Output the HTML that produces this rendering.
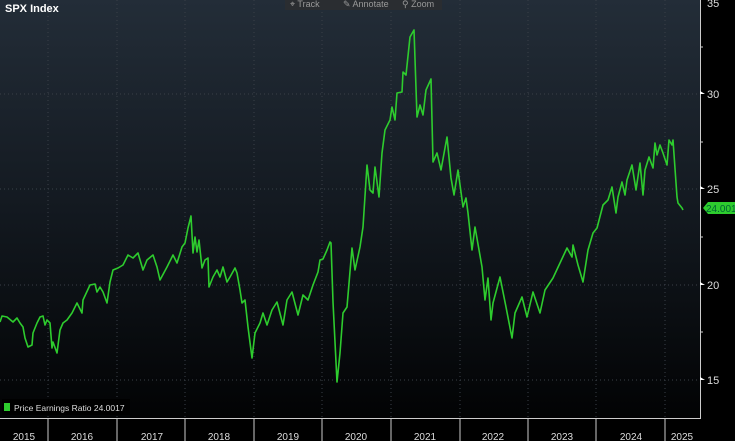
<!DOCTYPE html>
<html><head><style>
body{margin:0;background:#000;width:735px;height:441px;overflow:hidden;font-family:"Liberation Sans",sans-serif}
</style></head><body>
<svg width="735" height="441" viewBox="0 0 735 441" xmlns="http://www.w3.org/2000/svg" style="position:absolute;left:0;top:0">
<defs><linearGradient id="bg" x1="0" y1="0" x2="0" y2="1">
<stop offset="0" stop-color="#232d38"/><stop offset="0.5" stop-color="#131920"/><stop offset="1" stop-color="#020304"/></linearGradient></defs>
<rect x="0" y="0" width="700" height="418" fill="url(#bg)"/>
<g stroke="#3a4048" stroke-width="1" stroke-dasharray="1,3">
<line x1="0" y1="94" x2="700" y2="94"/><line x1="0" y1="189" x2="700" y2="189"/><line x1="0" y1="285" x2="700" y2="285"/><line x1="0" y1="380" x2="700" y2="380"/>
<line x1="48" y1="0" x2="48" y2="418"/><line x1="117" y1="0" x2="117" y2="418"/><line x1="185" y1="0" x2="185" y2="418"/><line x1="254" y1="0" x2="254" y2="418"/><line x1="322" y1="0" x2="322" y2="418"/><line x1="391" y1="0" x2="391" y2="418"/><line x1="460" y1="0" x2="460" y2="418"/><line x1="528" y1="0" x2="528" y2="418"/><line x1="596" y1="0" x2="596" y2="418"/><line x1="665" y1="0" x2="665" y2="418"/>
</g>
<polyline fill="none" stroke="#2ecc2e" stroke-width="1.6" stroke-linejoin="round" points="0,322 2,316 7,317 13,322 17,318 20,323 23,327 25,338 28,347 32,345 33,333 37,323 40,317 43,316 45,325 47,320 50,323 52,348 53,342 57,353 60,330 63,323 67,320 72,313 77,303 82,313 83,300 90,285 95,284 97,292 100,287 103,292 107,303 110,282 113,270 118,268 123,265 128,255 133,258 138,253 143,270 147,260 153,255 157,267 160,280 167,267 173,255 177,263 182,247 185,243 188,228 191,216 193,253 195,237 197,252 199,240 202,268 205,260 208,258 209,287 213,277 217,270 220,277 223,267 227,282 230,277 235,268 237,273 240,290 242,303 245,300 248,327 252,358 255,333 260,323 263,313 267,325 272,310 277,302 283,325 287,300 292,292 298,315 303,295 308,300 313,285 318,272 320,260 323,259 327,250 330,242 331,243 333,302 337,382 340,353 343,313 347,307 352,248 355,270 360,247 363,227 367,165 370,190 373,193 375,167 379,197 382,153 385,130 390,120 392,107 395,120 397,93 402,92 403,72 406,75 410,37 414,30 417,117 420,105 423,115 426,90 431,79 433,162 437,153 441,170 447,137 451,178 454,195 458,170 463,207 466,198 468,213 472,250 475,227 482,267 485,300 488,278 491,320 493,303 500,277 506,307 512,338 515,313 522,297 527,317 533,292 540,313 545,290 553,278 560,263 567,248 572,257 573,245 578,265 583,282 588,250 593,233 597,228 603,205 608,200 612,187 616,213 618,197 622,182 625,195 627,180 632,165 636,190 640,163 643,195 645,170 649,157 653,168 655,143 657,155 660,145 663,153 667,165 669,140 672,145 673,140 677,197 678,203 682,208 683,210"/>
<line x1="700.5" y1="0" x2="700.5" y2="419" stroke="#ccc" stroke-width="1"/>
<line x1="0" y1="418.5" x2="701" y2="418.5" stroke="#ccc" stroke-width="1"/>
<g stroke="#ccc"><line x1="48" y1="418" x2="48" y2="441"/><line x1="117" y1="418" x2="117" y2="441"/><line x1="185" y1="418" x2="185" y2="441"/><line x1="254" y1="418" x2="254" y2="441"/><line x1="322" y1="418" x2="322" y2="441"/><line x1="391" y1="418" x2="391" y2="441"/><line x1="460" y1="418" x2="460" y2="441"/><line x1="528" y1="418" x2="528" y2="441"/><line x1="596" y1="418" x2="596" y2="441"/><line x1="665" y1="418" x2="665" y2="441"/></g>
<g stroke="#ccc"><line x1="700" y1="47" x2="703" y2="47"/><line x1="700" y1="142" x2="703" y2="142"/><line x1="700" y1="237" x2="703" y2="237"/><line x1="700" y1="332" x2="703" y2="332"/></g>
<g fill="#fff"><path d="M700,91 l5,3 -5,0z"/><path d="M700,186 l5,3 -5,0z"/><path d="M700,282 l5,3 -5,0z"/><path d="M700,377 l5,3 -5,0z"/></g>
<g fill="#ddd" font-size="11"><text x="707" y="7">35</text><text x="707" y="98">30</text><text x="707" y="193">25</text><text x="707" y="289">20</text><text x="707" y="384">15</text></g>
<path d="M703,208 l5,-6 h27 v12 h-27z" fill="#2ecc2e"/>
<text x="706" y="212" font-size="10" fill="#063">24.001</text>
<g fill="#ddd" font-size="10" text-anchor="middle"><text x="24" y="440">2015</text><text x="82" y="440">2016</text><text x="152" y="440">2017</text><text x="219" y="440">2018</text><text x="288" y="440">2019</text><text x="356" y="440">2020</text><text x="425" y="440">2021</text><text x="493" y="440">2022</text><text x="562" y="440">2023</text><text x="631" y="440">2024</text><text x="682" y="440">2025</text></g>
<rect x="2" y="399" width="128" height="16" fill="#000"/>
<rect x="4" y="403" width="6" height="8" fill="#2ecc2e"/>
<text x="14" y="411" font-size="8.5" fill="#ddd">Price Earnings Ratio  24.0017</text>
<rect x="285" y="0" width="157" height="10" fill="#2a2d31"/>
<g fill="#999" font-size="9"><text x="290" y="7">⌖ Track</text><text x="343" y="7">✎ Annotate</text><text x="402" y="7">⚲ Zoom</text></g>
<text x="5" y="12" font-size="11" font-weight="bold" fill="#fff">SPX Index</text>
</svg>
</body></html>
